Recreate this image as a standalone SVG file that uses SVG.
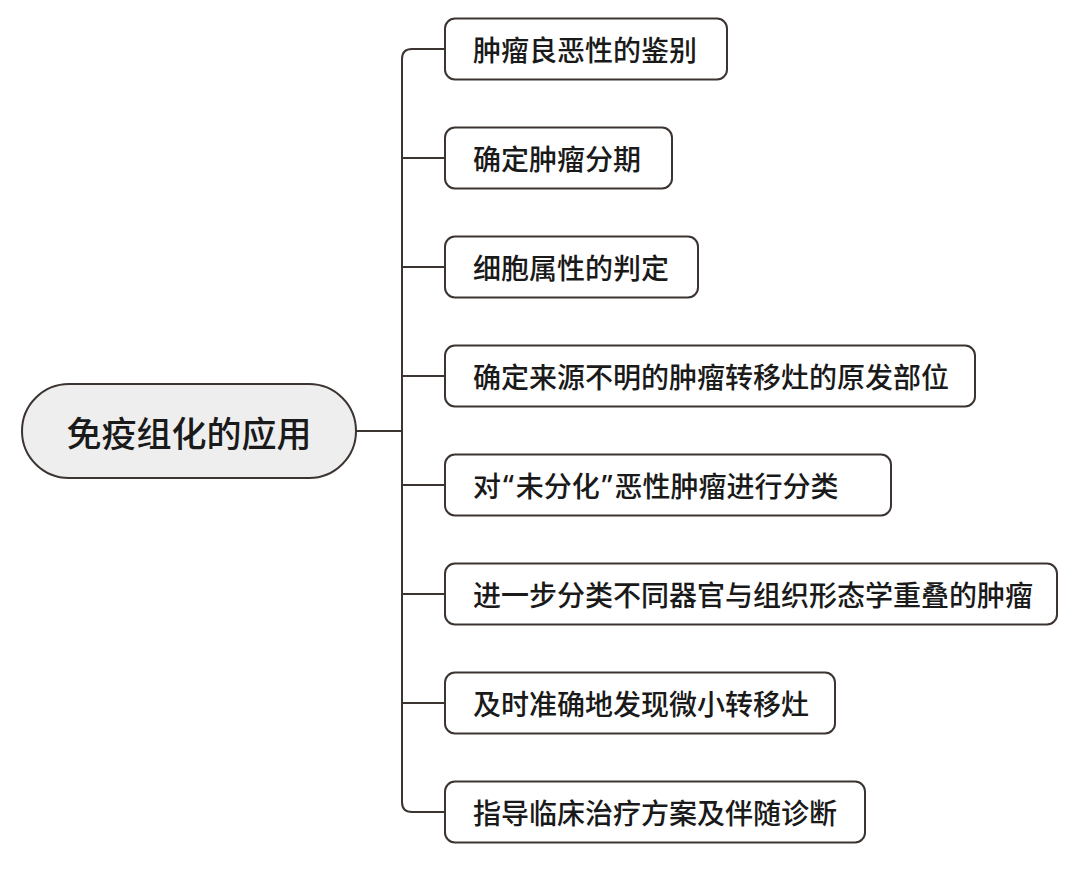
<svg xmlns="http://www.w3.org/2000/svg" width="1080" height="870" viewBox="0 0 1080 870">
<style>
.box{fill:#ffffff;stroke:#3b3431;stroke-width:2}
.root{fill:#eeeeee;stroke:#3b3431;stroke-width:2}
.t{font-family:"Noto Sans CJK SC","Noto Sans",sans-serif;font-size:28px;font-weight:500;fill:#1a1a1a;dominant-baseline:central}
.rt{font-family:"Noto Sans CJK SC","Noto Sans",sans-serif;font-size:35px;font-weight:500;fill:#1a1a1a;dominant-baseline:central;text-anchor:middle}
.q{font-family:"Noto Sans","Liberation Sans",sans-serif}
.c{fill:none;stroke:#3b3431;stroke-width:2}
</style>
<rect width="1080" height="870" fill="#ffffff"/>
<g id="connectors">
<path class="c" d="M356,431 H402"/>
<path class="c" d="M445,49 H412 Q402,49 402,59 V802 Q402,812 412,812 H445"/>
<path class="c" d="M402,158 H445"/>
<path class="c" d="M402,267 H445"/>
<path class="c" d="M402,376 H445"/>
<path class="c" d="M402,485 H445"/>
<path class="c" d="M402,594 H445"/>
<path class="c" d="M402,703 H445"/>
</g>
<g id="root">
<rect class="root" x="22" y="384" width="334" height="94" rx="47" ry="47"/>
<text class="rt" x="189" y="431">免疫组化的应用</text>
</g>
<g id="n1">
<rect class="box" x="445" y="18.5" width="282" height="61" rx="10"/>
<text class="t" x="473" y="49">肿瘤良恶性的鉴别</text>
</g>
<g id="n2">
<rect class="box" x="445" y="127.5" width="227" height="61" rx="10"/>
<text class="t" x="473" y="158">确定肿瘤分期</text>
</g>
<g id="n3">
<rect class="box" x="445" y="236.5" width="253" height="61" rx="10"/>
<text class="t" x="473" y="267">细胞属性的判定</text>
</g>
<g id="n4">
<rect class="box" x="445" y="345.5" width="530" height="61" rx="10"/>
<text class="t" x="473" y="376">确定来源不明的肿瘤转移灶的原发部位</text>
</g>
<g id="n5">
<rect class="box" x="445" y="454.5" width="446" height="61" rx="10"/>
<text class="t" x="473" y="485">对<tspan class="q" dx="2">“</tspan><tspan dx="2">未分化</tspan><tspan class="q" dx="2">”</tspan><tspan dx="2">恶性肿瘤进行分类</tspan></text>
</g>
<g id="n6">
<rect class="box" x="445" y="563.5" width="612" height="61" rx="10"/>
<text class="t" x="473" y="594">进一步分类不同器官与组织形态学重叠的肿瘤</text>
</g>
<g id="n7">
<rect class="box" x="445" y="672.5" width="390" height="61" rx="10"/>
<text class="t" x="473" y="703">及时准确地发现微小转移灶</text>
</g>
<g id="n8">
<rect class="box" x="445" y="781.5" width="420" height="61" rx="10"/>
<text class="t" x="473" y="812">指导临床治疗方案及伴随诊断</text>
</g>
</svg>
